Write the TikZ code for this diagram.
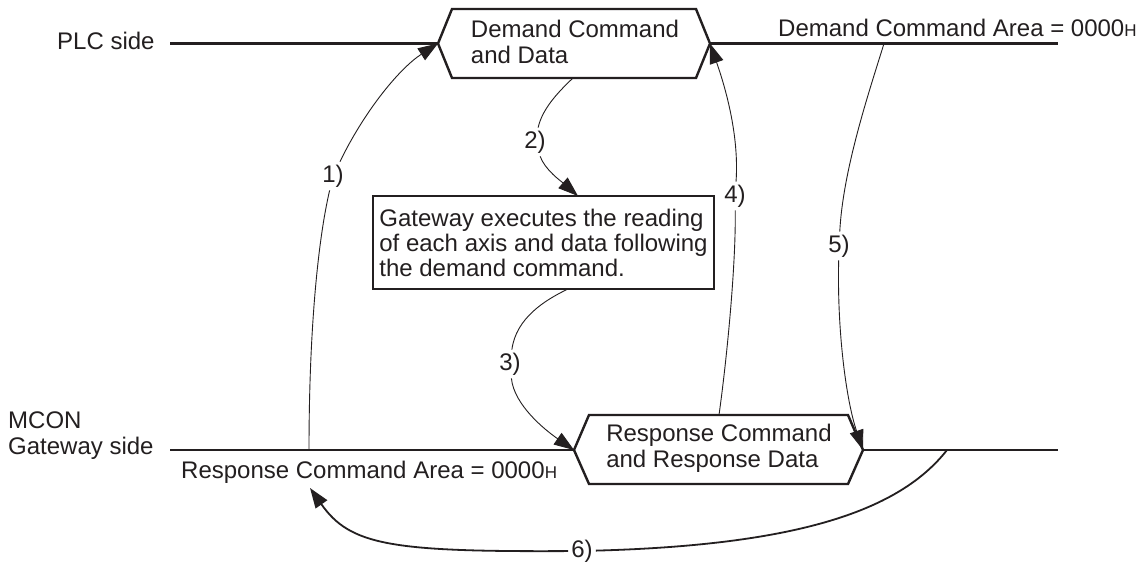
\documentclass[tikz,border=0pt]{standalone}
\usepackage{fontspec}
\setmainfont{Liberation Sans}
\usetikzlibrary{arrows.meta}
\definecolor{ink}{HTML}{231F20}
\newcommand\smallH{{\fontsize{17}{17}\selectfont H}}
\begin{document}
\begin{tikzpicture}[x=1pt,y=-1pt,
  level/.style={line width=2.4pt, draw=ink},
  hexa/.style={line width=2.4pt, draw=ink, line join=miter},
  conn/.style={line width=0.9pt, draw=ink},
  thickconn/.style={line width=1.8pt, draw=ink},
  tip/.style={-{Triangle[length=20pt,width=14pt]}},
  txt/.style={text=ink, font=\fontsize{24}{26}\selectfont, inner sep=0pt},
  lbl/.style={text=ink, font=\fontsize{24}{26}\selectfont, inner sep=3pt},
  gwbox/.style={draw=ink, line width=2.4pt, minimum width=341pt, minimum height=93pt,
    inner xsep=6pt, align=left, text=ink, font=\fontsize{24}{25}\selectfont},
  hextxt/.style={align=left, text=ink, font=\fontsize{24}{26}\selectfont, inner sep=0pt}
]
\useasboundingbox[fill=white] (0,0) rectangle (1147,567);

% ---- top hexagon (Demand Command and Data)
\coordinate (DL)  at (438,43.5);
\coordinate (DTL) at (452,9);
\coordinate (DTR) at (696,9);
\coordinate (DR)  at (710,43.5);
\coordinate (DBR) at (696,78);
\coordinate (DBL) at (452,78);
\draw[hexa] (DL) -- (DTL) -- (DTR) -- (DR) -- (DBR) -- (DBL) -- cycle;
\node[hextxt] (dem) at (575,42) {Demand Command\\and Data};

% ---- bottom hexagon (Response Command and Response Data)
\coordinate (RL)  at (574,450);
\coordinate (RTL) at (589,415);
\coordinate (RTR) at (848,415);
\coordinate (RR)  at (863,450);
\coordinate (RBR) at (848,484);
\coordinate (RBL) at (589,484);
\draw[hexa] (RL) -- (RTL) -- (RTR) -- (RR) -- (RBR) -- (RBL) -- cycle;
\node[hextxt] (res) at (719,448.5) {Response Command\\and Response Data};

% ---- level lines
\coordinate (plcA) at (170,43.5);
\coordinate (plcB) at (1058,43.5);
\coordinate (gwA)  at (170,450);
\coordinate (gwB)  at (1058,450);
\draw[level] (plcA) -- (DL);
\draw[level] (DR) -- (plcB);
\draw[level] (gwA) -- (RL);
\draw[level] (RR) -- (gwB);

% ---- side texts
\node[txt, anchor=base west] (plc) at (57,50) {PLC side};
\node[txt, anchor=base west] (mcon) at (8,428) {MCON};
\node[txt, anchor=base west] (gws) at (8,454) {Gateway side};
\node[txt, anchor=base west] (dca) at (778,37) {Demand Command Area = 0000\smallH};
\node[txt, anchor=base west] (rca) at (181,478) {Response Command Area = 0000\smallH};

% ---- gateway box
\node[gwbox] (gw) at (543.5,242.5) {Gateway executes the reading\\of each axis and data following\\the demand command.};

% ---- step labels
\node[lbl] (n1) at (333,176) {1)};
\node[lbl] (n2) at (535,142) {2)};
\node[lbl] (n3) at (510,364) {3)};
\node[lbl] (n4) at (735,196) {4)};
\node[lbl] (n5) at (839,246) {5)};
\node[lbl] (n6) at (582,551) {6)};

% ---- connector end points
\coordinate (s1) at (309,450);
\coordinate (s2) at (573,78);
\coordinate (t2) at (578,196);
\coordinate (s3) at (568,289);
\coordinate (s4) at (719,415);
\coordinate (s5) at (884,43.5);
\coordinate (s6) at (947,450);
\coordinate (t6) at (310,488);

% 1)
\draw[conn] (s1) .. controls (309,330) and (318,240) .. (n1);
\draw[conn,tip] (n1) .. controls (365,110) and (400,68) .. (DL);
% 2)
\draw[conn] (s2) .. controls (556,94) and (542,110) .. (n2);
\draw[conn,tip] (n2) .. controls (545,170) and (562,182) .. (t2);
% 3)
\draw[conn] (s3) .. controls (545,300) and (516,318) .. (n3);
\draw[conn,tip] (n3) .. controls (514,405) and (545,430) .. (RL);
% 4)
\draw[conn] (s4) .. controls (728,350) and (736,260) .. (n4);
\draw[conn,tip] (n4) .. controls (739,140) and (728,95) .. (DR);
% 5)
\draw[conn] (s5) .. controls (868,95) and (843,170) .. (n5);
\draw[conn,tip] (n5) .. controls (837,330) and (846,400) .. (RR);
% 6)
\draw[thickconn] (s6) .. controls (900,510) and (800,545) .. (n6);
\draw[thickconn,tip] (n6) .. controls (390,552) and (350,545) .. (t6);
\end{tikzpicture}
\end{document}
